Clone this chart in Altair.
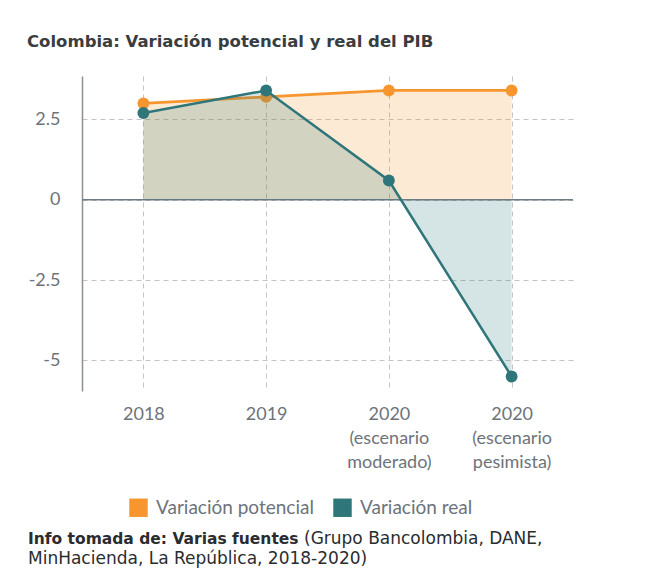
import altair as alt
import pandas as pd

categories = ["2018", "2019", "2020|(escenario|moderado)", "2020|(escenario|pesimista)"]
potencial = [3.0, 3.2, 3.4, 3.4]
real = [2.7, 3.4, 0.6, -5.5]
series = ["Variación potencial", "Variación real"]
colors = ["#F7962F", "#2E7679"]
y_ticks = [-5, -2.5, 0, 2.5]
title_text = "Colombia: Variación potencial y real del PIB"
caption_bold = "Info tomada de: Varias fuentes"
caption_line1 = "(Grupo Bancolombia, DANE,"
caption_line2 = "MinHacienda, La República, 2018-2020)"

df_pot = pd.DataFrame({"cat": categories, "value": potencial, "serie": series[0]})
df_real = pd.DataFrame({"cat": categories, "value": real, "serie": series[1]})

label_color = "#6d737a"
grid_color = "#c4c4c4"

x_enc = alt.X(
    "cat:N",
    sort=categories,
    scale=alt.Scale(type="point", padding=0.5),
    axis=alt.Axis(
        title=None, labelAngle=0, labelExpr="split(datum.label, '|')",
        ticks=False, domain=False, grid=True, gridDash=[5, 4], gridColor=grid_color,
        labelFont="Lato", labelFontSize=18, labelColor=label_color,
        labelPadding=14, labelLineHeight=24, labelBaseline="top",
    ),
)
y_enc = alt.Y(
    "value:Q",
    scale=alt.Scale(domain=[-5.95, 3.85], nice=False, zero=False),
    axis=alt.Axis(
        title=None, values=y_ticks, labelExpr="'' + datum.value",
        ticks=False, domain=True, domainColor="#8a9096", domainWidth=1.5,
        grid=True, gridDash=[5, 4], gridColor=grid_color,
        labelFont="Lato", labelFontSize=18, labelColor=label_color, labelPadding=22,
    ),
)

color_enc = alt.Color(
    "serie:N",
    scale=alt.Scale(domain=series, range=colors),
    legend=alt.Legend(
        title=None, orient="none", legendX=47, legendY=422, direction="horizontal",
        symbolType="square", symbolSize=340, symbolStrokeWidth=0, symbolOpacity=1,
        labelFont="Lato", labelFontSize=19, labelColor=label_color,
        labelOffset=8, columnPadding=19,
    ),
)

base_pot = alt.Chart(df_pot)
base_real = alt.Chart(df_real)

area_pot = base_pot.mark_area(color=colors[0], fillOpacity=0.2).encode(x=x_enc, y=y_enc, y2=alt.datum(0))
line_pot = base_pot.mark_line(color=colors[0], strokeWidth=2.8).encode(x=x_enc, y=y_enc)
pts_pot = base_pot.mark_point(filled=True, size=140, opacity=1).encode(x=x_enc, y=y_enc, color=color_enc)

area_real = base_real.mark_area(color=colors[1], fillOpacity=0.2).encode(x=x_enc, y=y_enc, y2=alt.datum(0))
line_real = base_real.mark_line(color=colors[1], strokeWidth=2.5).encode(x=x_enc, y=y_enc)
pts_real = base_real.mark_point(filled=True, size=140, opacity=1).encode(x=x_enc, y=y_enc, color=color_enc)

zero_rule = alt.Chart(pd.DataFrame({"z": [0]})).mark_rule(color="#6f7c86", strokeWidth=1.5).encode(y=alt.Y("z:Q"))

title_mark = alt.Chart(pd.DataFrame({"t": [title_text]})).mark_text(
    align="left", baseline="alphabetic", font="DejaVu Sans", fontSize=16.5, fontWeight="bold", color="#3a3d40"
).encode(x=alt.value(-55), y=alt.value(-28.7), text="t:N")

cap_b = alt.Chart(pd.DataFrame({"t": [caption_bold]})).mark_text(
    align="left", baseline="alphabetic", font="DejaVu Sans", fontSize=15.5, fontWeight="bold", color="#2a2c2e"
).encode(x=alt.value(-54), y=alt.value(468), text="t:N")
cap_1 = alt.Chart(pd.DataFrame({"t": [caption_line1]})).mark_text(
    align="left", baseline="alphabetic", font="DejaVu Sans", fontSize=17, color="#2a2c2e"
).encode(x=alt.value(222), y=alt.value(468), text="t:N")
cap_2 = alt.Chart(pd.DataFrame({"t": [caption_line2]})).mark_text(
    align="left", baseline="alphabetic", font="DejaVu Sans", fontSize=17, color="#2a2c2e"
).encode(x=alt.value(-54), y=alt.value(488), text="t:N")

chart = alt.layer(
    area_pot, line_pot, pts_pot, zero_rule, area_real, line_real, pts_real,
    title_mark, cap_b, cap_1, cap_2,
).properties(
    width=491, height=315,
    background="white",
    autosize=alt.AutoSizeParams(type="none"),
    padding={"left": 74, "top": 68, "right": 40, "bottom": 178},
).configure_view(stroke=None)

chart.save("out.html", embed_options={"renderer": "svg", "actions": False})
